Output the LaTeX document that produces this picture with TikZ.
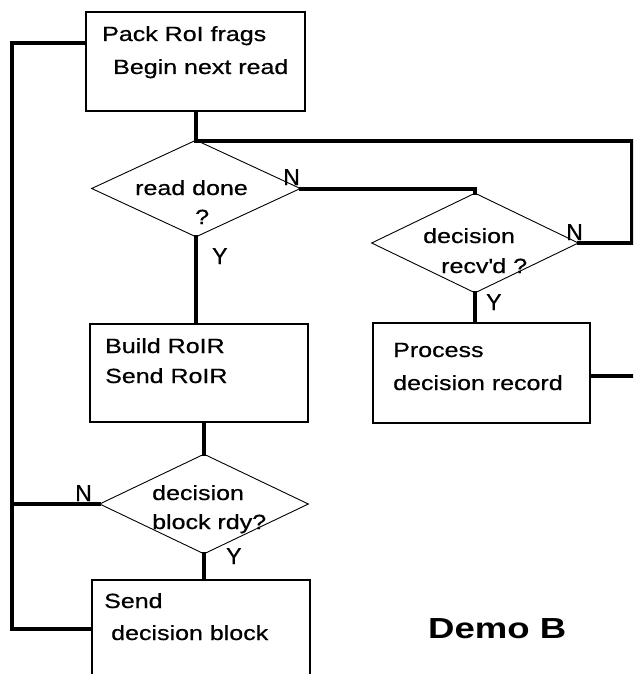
\documentclass[tikz,border=0pt]{standalone}
\usepackage{fontspec}
\usetikzlibrary{shapes.geometric}
\newfontfamily\diagfont{Liberation Sans}[FakeStretch=1.22,FakeBold=0.6]
\newfontfamily\labfont{Liberation Sans}[FakeBold=0.6]
\newfontfamily\titlefont{Liberation Sans}[FakeStretch=1.26]
\tikzset{
  conn/.style={line width=4pt, line cap=rect},
  procbox/.style={draw, line width=1.3pt, rectangle, inner sep=0pt},
  decbox/.style={draw, line width=0.9pt, diamond, inner sep=0pt, aspect=2},
  txt/.style={anchor=base west, inner sep=0pt, font=\diagfont\fontsize{20.5}{24}\selectfont},
  yn/.style={anchor=base west, inner sep=0pt, font=\labfont\fontsize{23}{24}\selectfont},
}
\begin{document}
\begin{tikzpicture}[x=1pt, y=-1pt]
\useasboundingbox (0,0) rectangle (633,674);
\clip (0,0) rectangle (633,674);
\fill[white] (0,0) rectangle (633,674);

% boxes
\node[procbox, minimum width=219pt, minimum height=99pt] (A) at (195.5,61.5) {};
\node[procbox, minimum width=218pt, minimum height=98pt] (B) at (199,373) {};
\node[procbox, minimum width=217pt, minimum height=100pt] (P) at (481.5,373) {};
\node[procbox, minimum width=218pt, minimum height=140pt] (S) at (201,650) {};

% decisions
\node[decbox, minimum width=209pt, minimum height=97pt] (R) at (196,188.5) {};
\node[decbox, minimum width=207pt, minimum height=100pt] (D2) at (475,243) {};
\node[decbox, minimum width=209pt, minimum height=100pt] (D3) at (204,504) {};

% helper coordinates
\coordinate (L1) at (12,43);
\coordinate (L2) at (12,629);
\coordinate (J) at (196,141);
\coordinate (RT) at (632,141);
\coordinate (Pout) at (633,376);

% connectors
\draw[conn] (A.west |- L1) -- (L1) -- (L2) -- (S.west |- L2);
\draw[conn] (R.north |- A.south) -- (R.north);
\draw[conn] (J) -- (RT) -- (RT |- D2.east) -- (D2.east);
\draw[conn] (R.east) -- (D2.north |- R.east) -- (D2.north);
\draw[conn] (R.south) -- (R.south |- B.north);
\draw[conn] (D2.south) -- (D2.south |- P.north);
\draw[conn] (P.east |- Pout) -- (Pout);
\draw[conn] (D3.north |- B.south) -- (D3.north);
\draw[conn] (D3.west) -- (D3.west -| L1);
\draw[conn] (D3.south) -- (D3.south |- S.north);

% texts
\node[txt] (tA1) at (102,41) {Pack RoI frags};
\node[txt] (tA2) at (113,74) {Begin next read};
\node[txt] (tR1) at (135,195) {read done};
\node[txt] (tR2) at (195,224) {?};
\node[txt] (tD21) at (423,243) {decision};
\node[txt] (tD22) at (441,273) {recv\textquotesingle d ?};
\node[txt] (tB1) at (105,353) {Build RoIR};
\node[txt] (tB2) at (105,383) {Send RoIR};
\node[txt] (tP1) at (393,357) {Process};
\node[txt] (tP2) at (393,390) {decision record};
\node[txt] (tD31) at (152,500) {decision};
\node[txt] (tD32) at (152,529) {block rdy?};
\node[txt] (tS1) at (104,608) {Send};
\node[txt] (tS2) at (111,640) {decision block};

% Y/N labels
\node[yn] (nR) at (283,185) {N};
\node[yn] (yR) at (212,264) {Y};
\node[yn] (nD2) at (566,240) {N};
\node[yn] (yD2) at (486,310) {Y};
\node[yn] (nD3) at (75,501) {N};
\node[yn] (yD3) at (226,564) {Y};

% title
\node[anchor=base west, inner sep=0pt, font=\titlefont\bfseries\fontsize{29}{32}\selectfont] (title) at (428,638) {Demo B};
\end{tikzpicture}
\end{document}
